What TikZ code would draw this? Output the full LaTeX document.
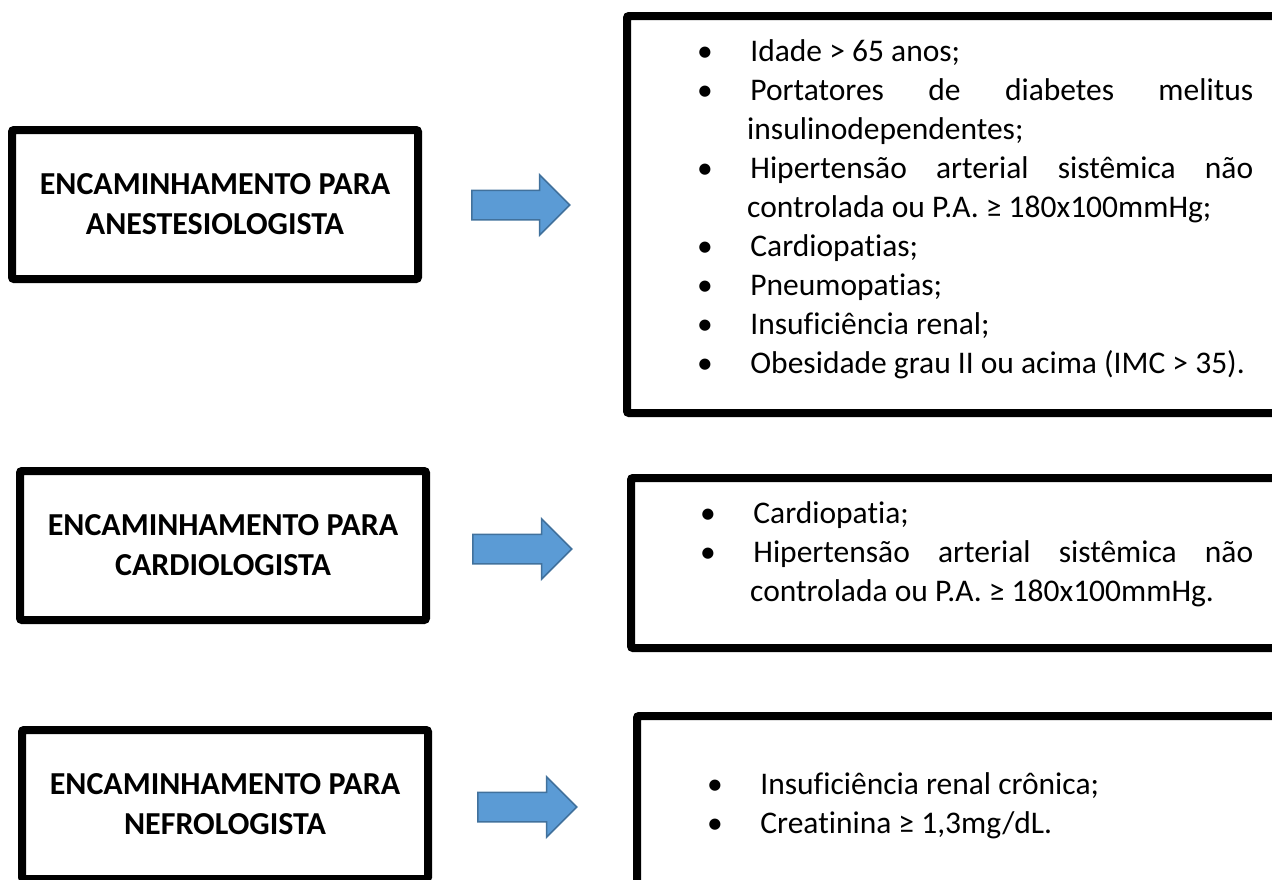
\documentclass[tikz,border=0pt]{standalone}
\usepackage{fontspec}
\setmainfont{Carlito}[Ligatures=NoCommon]
\usetikzlibrary{shapes.arrows}

\definecolor{arrowfill}{RGB}{91,155,213}
\definecolor{arrowline}{RGB}{65,113,156}

\newenvironment{dotlist}{%
	\hyphenpenalty=10000 \exhyphenpenalty=10000 \tolerance=10000
	\begin{list}{\textbullet}{%
		\setlength{\leftmargin}{50pt}%
		\setlength{\labelwidth}{12.5pt}%
		\setlength{\labelsep}{37.5pt}%
		\setlength{\itemsep}{0pt}%
		\setlength{\parsep}{0pt}%
		\setlength{\topsep}{0pt}%
		\setlength{\partopsep}{0pt}}}
	{\end{list}}

\begin{document}
\begin{tikzpicture}[x=1pt,y=-1pt]
\tikzstyle{refer-box}=
[
	draw, line width=8pt, rounded corners=2pt,
	minimum width=406pt, minimum height=149pt,
	inner sep=0pt, align=center,
	font=\fontsize{32pt}{40pt}\selectfont\bfseries
]
\tikzstyle{list-box}=[draw, line width=8pt, rounded corners=2pt, inner sep=0pt]
\tikzstyle{list-text}=[anchor=north west, inner sep=0pt, align=justify, font=\fontsize{31.5pt}{39pt}\selectfont]
\tikzstyle{blue-arrow}=
[
	single arrow, anchor=tail, draw=arrowline, fill=arrowfill, line width=1.5pt,
	inner xsep=0pt, inner ysep=14pt, minimum height=98pt,
	single arrow head extend=15.5pt, single arrow tip angle=90
]

\useasboundingbox (0,0) rectangle (1272,879);
\clip (0,0) rectangle (1272,879);

\node[refer-box] (anest) at (215,204.5) {ENCAMINHAMENTO PARA\\ANESTESIOLOGISTA};
\node[refer-box] (cardio) at (223,545.5) {ENCAMINHAMENTO PARA\\CARDIOLOGISTA};
\node[refer-box] (nefro) at (225,804.5) {ENCAMINHAMENTO PARA\\NEFROLOGISTA};

\node[blue-arrow] (anest-arrow) at (471,205) {};
\node[blue-arrow, minimum height=99pt] (cardio-arrow) at (472,549) {};
\node[blue-arrow, minimum height=99pt] (nefro-arrow) at (477,807) {};

\node[list-box, minimum width=663pt, minimum height=397pt] (anest-list) at (958.5,214.5) {};
\node[list-box, minimum width=659pt, minimum height=170pt] (cardio-list) at (960.5,563) {};
\node[list-box, minimum width=653pt, minimum height=184pt] (nefro-list) at (963.5,808) {};

\node[list-text, text width=556pt] (anest-items) at (697,22) {%
	\begin{dotlist}
	\item Idade > 65 anos;
	\item Portatores de diabetes melitus insulinodependentes;
	\item Hipertensão arterial sistêmica não controlada ou P.A. ≥ 180x100mmHg;
	\item Cardiopatias;
	\item Pneumopatias;
	\item Insuficiência renal;
	\item Obesidade grau II ou acima (IMC > 35).
	\end{dotlist}};
\node[list-text, text width=553pt] (cardio-items) at (700,484) {%
	\begin{dotlist}
	\item Cardiopatia;
	\item Hipertensão arterial sistêmica não controlada ou P.A. ≥ 180x100mmHg.
	\end{dotlist}};
\node[list-text, text width=546pt] (nefro-items) at (707,755) {%
	\begin{dotlist}
	\item Insuficiência renal crônica;
	\item Creatinina ≥ 1,3mg/dL.
	\end{dotlist}};
\end{tikzpicture}
\end{document}
